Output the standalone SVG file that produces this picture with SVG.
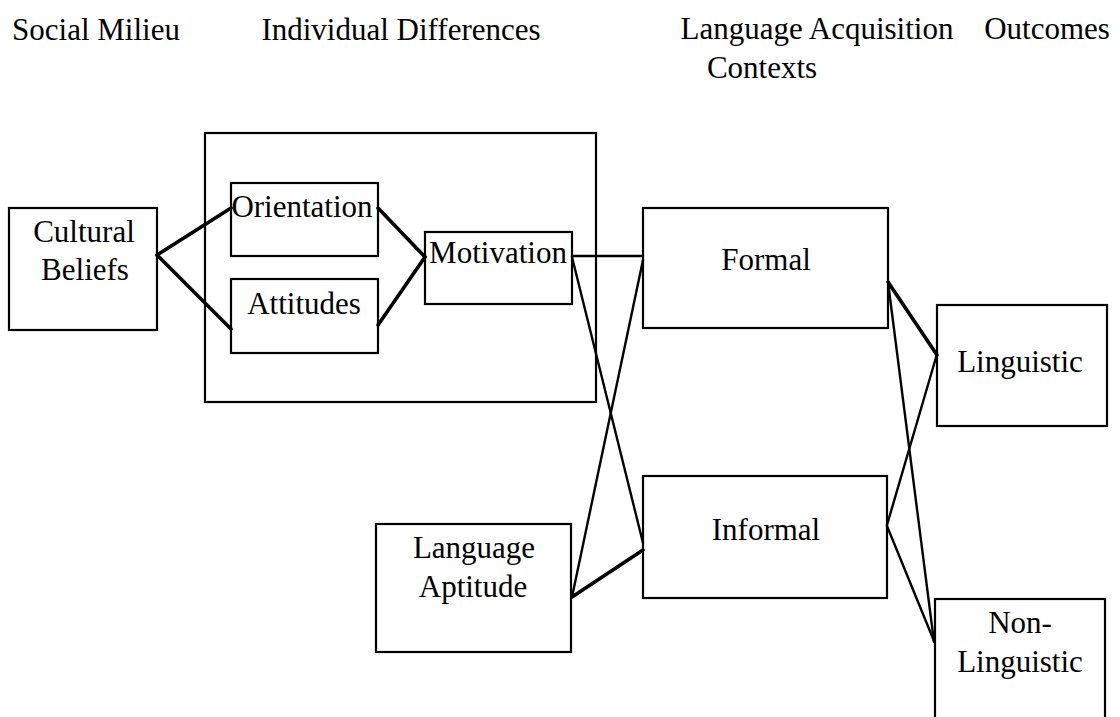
<svg xmlns="http://www.w3.org/2000/svg" width="1120" height="717" viewBox="0 0 1120 717">
<style>
text{font-family:'Liberation Serif','Times New Roman',serif;font-size:31px;fill:#000;text-anchor:middle}
.box{fill:none;stroke:#000;stroke-width:2.2}
.thick{stroke:#000;stroke-width:3.6;fill:none;stroke-linecap:round}
.thin{stroke:#000;stroke-width:2.4;fill:none;stroke-linecap:round}
</style>
<rect width="1120" height="717" fill="#fff"/>
<g id="headers">
<text x="96" y="40">Social Milieu</text>
<text x="401" y="40">Individual Differences</text>
<text x="817" y="39">Language Acquisition</text>
<text x="1047" y="39">Outcomes</text>
<text x="762" y="78">Contexts</text>
</g>
<g id="individual-differences"><rect class="box" x="205" y="133" width="391" height="269"/></g>
<g id="cultural-beliefs"><rect class="box" x="9" y="208" width="148" height="122"/><text x="84" y="242">Cultural</text><text x="85" y="280">Beliefs</text></g>
<g id="orientation"><rect class="box" x="231" y="183" width="147" height="73"/><text x="302" y="217">Orientation</text></g>
<g id="attitudes"><rect class="box" x="231" y="279" width="147" height="74"/><text x="304" y="314">Attitudes</text></g>
<g id="motivation"><rect class="box" x="425" y="232" width="147" height="72"/><text x="498" y="263">Motivation</text></g>
<g id="formal"><rect class="box" x="643" y="208" width="245" height="120"/><text x="766" y="270">Formal</text></g>
<g id="informal"><rect class="box" x="643" y="476" width="244" height="122"/><text x="766" y="540">Informal</text></g>
<g id="language-aptitude"><rect class="box" x="376" y="524" width="195" height="128"/><text x="474" y="558">Language</text><text x="473" y="597">Aptitude</text></g>
<g id="linguistic"><rect class="box" x="937" y="305" width="170" height="121"/><text x="1020" y="372">Linguistic</text></g>
<g id="non-linguistic"><rect class="box" x="935" y="599" width="170" height="130"/><text x="1020" y="633">Non-</text><text x="1020" y="672">Linguistic</text></g>
<g id="connectors">
<line class="thick" x1="157" y1="255" x2="231" y2="208"/>
<line class="thick" x1="157" y1="255" x2="231" y2="329"/>
<line class="thick" x1="378" y1="208" x2="425" y2="257"/>
<line class="thick" x1="378" y1="325" x2="425" y2="257"/>
<line class="thin" x1="572" y1="256" x2="643" y2="256"/>
<line class="thin" x1="572" y1="257" x2="643" y2="543"/>
<line class="thin" x1="572" y1="597" x2="643" y2="260"/>
<line class="thick" x1="572" y1="597" x2="643" y2="550"/>
<line class="thick" x1="888" y1="282" x2="937" y2="355"/>
<line class="thin" x1="888" y1="282" x2="934" y2="642"/>
<line class="thin" x1="887" y1="525" x2="937" y2="354"/>
<line class="thin" x1="887" y1="526" x2="934" y2="641"/>
</g>
</svg>
